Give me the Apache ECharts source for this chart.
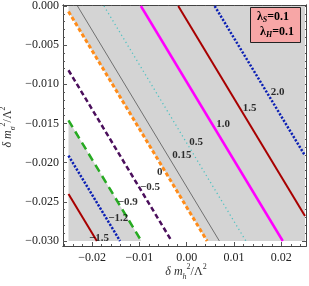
<!DOCTYPE html>
<html><head><meta charset="utf-8">
<script src="https://cdn.jsdelivr.net/npm/echarts@6/dist/echarts.min.js"></script>
<style>html,body{margin:0;padding:0;background:#fff}#c{width:309px;height:286px}</style>
</head><body><div id="c"></div>
<script>
// contour levels and the offset c of each line  x + y = c
const levelText = ['2.0','1.5','1.0','0.5','0.15','0','\u22120.5','\u22120.9','\u22121.2','\u22121.5'];
const lineOffset = [0.0059,-0.0018,-0.0097,-0.0175,-0.0231,-0.0257,-0.0332,-0.0396,-0.0441,-0.0490];
const labelAtY = [-0.0110,-0.0130,-0.0151,-0.0174,-0.0190,-0.0212,-0.0231,-0.0250,-0.0271,-0.0296];
const shadeAboveOffset = -0.0257;   // shaded where value >= 0
const shadeBelowOffset = -0.0396;   // shaded where value <= -0.9
const xDomain = [-0.025, 0.025];
const yDomain = [-0.030, 0.000];
const xTicks = [-0.02,-0.01,0,0.01,0.02];
const yTicks = [0,-0.005,-0.010,-0.015,-0.020,-0.025,-0.030];
const xMinorTicks = [-0.026,-0.024,-0.022,-0.018,-0.016,-0.014,-0.012,-0.008,-0.006,-0.004,-0.002,0.002,0.004,0.006,0.008,0.012,0.014,0.016,0.018,0.022,0.024];
const yMinorTicks = [-0.001,-0.002,-0.003,-0.004,-0.006,-0.007,-0.008,-0.009,-0.011,-0.012,-0.013,-0.014,-0.016,-0.017,-0.018,-0.019,-0.021,-0.022,-0.023,-0.024,-0.026,-0.027,-0.028,-0.029];

const lineStyles = [
  {color:'#0c20b4', width:2.5, type:[2.2,1.6]},
  {color:'#a80000', width:2, type:'solid'},
  {color:'#ff00ff', width:2.5, type:'solid'},
  {color:'#4fc2c2', width:1.3, type:[1.2,3]},
  {color:'#707070', width:1, type:'solid'},
  {color:'#ff8c1a', width:3, type:[4,2.5]},
  {color:'#4b0f5c', width:2.5, type:[5,3]},
  {color:'#27aa22', width:2.5, type:[8,5]},
  {color:'#0c20b4', width:2.5, type:[2.2,1.6]},
  {color:'#a80000', width:2, type:'solid'}
];
const labelSide = ['right','right','right','right','right','left','right','right','right','right'];
const labelDist = [4,3,4,3,5,3,1,0,2,-6];

const XMIN = -0.02616, XMAX = 0.02521, YMIN = -0.03064, YMAX = 0.000128;
const serif = '"Liberation Serif","DejaVu Serif",serif';
const minus = s => s.replace('-', '\u2212');

function boxCorners(){
  return [[xDomain[0],yDomain[0]],[xDomain[1],yDomain[0]],[xDomain[1],yDomain[1]],[xDomain[0],yDomain[1]]];
}
function clipHalf(poly, c, sign){
  const f = p => sign*(p[0]+p[1]-c);
  const out = [];
  for(let i=0;i<poly.length;i++){
    const a = poly[i], b = poly[(i+1)%poly.length];
    const fa = f(a), fb = f(b);
    if(fa>=0) out.push(a);
    if((fa>=0) !== (fb>=0)){
      const t = fa/(fa-fb);
      out.push([a[0]+t*(b[0]-a[0]), a[1]+t*(b[1]-a[1])]);
    }
  }
  return out;
}
function segment(c){
  const pts = [];
  const eps = 1e-12;
  [xDomain[0], xDomain[1]].forEach(x => { const y=c-x; if(y>=yDomain[0]-eps && y<=yDomain[1]+eps) pts.push([x,y]); });
  [yDomain[0], yDomain[1]].forEach(y => { const x=c-y; if(x>=xDomain[0]-eps && x<=xDomain[1]+eps) pts.push([x,y]); });
  pts.sort((a,b)=>a[0]-b[0]);
  return [pts[0], pts[pts.length-1]];
}

const shadePolys = [clipHalf(boxCorners(), shadeAboveOffset, 1), clipHalf(boxCorners(), shadeBelowOffset, -1)];

const series = [];
series.push({
  type:'custom', xAxisIndex:0, yAxisIndex:0, silent:true, z:1,
  data: shadePolys.map((p,i)=>[i]),
  renderItem: (params, api) => {
    const poly = shadePolys[params.dataIndex];
    return {type:'polygon', shape:{points: poly.map(p=>api.coord(p))}, style:{fill:'#d4d4d4'}};
  }
});
lineOffset.forEach((c,i)=>{
  const st = lineStyles[i];
  series.push({
    type:'line', xAxisIndex:0, yAxisIndex:0, data: segment(c), showSymbol:false, symbol:'none',
    silent:true, z:3, lineStyle:{color:st.color, width:st.width, type:st.type, cap:'butt'}, animation:false
  });
});
series.push({
  type:'scatter', xAxisIndex:0, yAxisIndex:0, symbolSize:0, z:5, silent:true,
  data: lineOffset.map((c,i)=>({value:[c-labelAtY[i], labelAtY[i]],
    label:{show:true, position:labelSide[i], distance:labelDist[i], formatter:levelText[i],
      fontFamily:serif, fontWeight:'bold', fontSize:11, color:'#000'}}))
});

const frameLine = {show:true, onZero:false, lineStyle:{color:'#444', width:1}};
function xAxisDef(pos, vals, len, labels){
  return {type:'value', position:pos, min:XMIN, max:XMAX, splitLine:{show:false},
    axisLine: frameLine,
    axisTick:{show:true, inside:true, length:len, customValues:vals, lineStyle:{color:'#555', width:1}},
    axisLabel: labels ? {show:true, customValues:vals, margin:6, fontFamily:serif, fontSize:12, color:'#222',
      formatter: v => minus(v.toFixed(2))} : {show:false}};
}
function yAxisDef(pos, vals, len, labels){
  return {type:'value', position:pos, min:YMIN, max:YMAX, splitLine:{show:false},
    axisLine: frameLine,
    axisTick:{show:true, inside:true, length:len, customValues:vals, lineStyle:{color:'#555', width:1}},
    axisLabel: labels ? {show:true, customValues:vals, margin:4, fontFamily:serif, fontSize:12, color:'#222',
      formatter: v => minus(v.toFixed(3))} : {show:false}};
}

const titleRich = {
  i:{fontFamily:serif, fontStyle:'italic', fontSize:12, fill:'#333', lineHeight:18},
  n:{fontFamily:serif, fontSize:12, fill:'#333', lineHeight:18},
  sub:{fontFamily:serif, fontStyle:'italic', fontSize:8, fill:'#333', verticalAlign:'bottom', lineHeight:18, padding:[6,0,0,0]},
  sup:{fontFamily:serif, fontSize:8, fill:'#333', verticalAlign:'top', lineHeight:18, padding:[0,0,6,0]}
};

const option = {
  animation:false,
  grid:{left:63, right:3, top:5, bottom:40, containLabel:false},
  xAxis:[xAxisDef('bottom', xTicks, 4, true), xAxisDef('bottom', xMinorTicks, 2, false),
         xAxisDef('top', xTicks, 4, false), xAxisDef('top', xMinorTicks, 2, false)],
  yAxis:[yAxisDef('left', yTicks, 4, true), yAxisDef('left', yMinorTicks, 2, false),
         yAxisDef('right', yTicks, 4, false), yAxisDef('right', yMinorTicks, 2, false)],
  series: series,
  graphic:[
    {type:'text', x:186, y:272, z:10, style:{
      text:'{i|\u03b4 m}{sub|h}{sup|2}{n|/\u039b}{sup|2}', align:'center', verticalAlign:'middle', rich:titleRich}},
    {type:'text', x:8, y:127, rotation:Math.PI/2, z:10, style:{
      text:'{i|\u03b4 m}{sub|\u03c3}{sup|2}{n|/\u039b}{sup|2}', align:'center', verticalAlign:'middle', rich:titleRich}},
    {type:'rect', shape:{x:250.5, y:7.5, width:50, height:35}, z:10,
      style:{fill:'#f7a6a6', stroke:'#222', lineWidth:1}},
    {type:'text', x:273, y:17, z:11, style:{text:'\u03bb{s|S}{b|=0.1}', align:'center', verticalAlign:'middle',
      fontFamily:serif, fontWeight:'bold', fontSize:12, fill:'#000',
      rich:{s:{fontFamily:serif, fontStyle:'italic', fontWeight:'bold', fontSize:8, padding:[5,0,0,0]}, b:{fontFamily:serif, fontWeight:'bold', fontSize:12}}}},
    {type:'text', x:277, y:32, z:11, style:{text:'\u03bb{s|H}{b|=0.1}', align:'center', verticalAlign:'middle',
      fontFamily:serif, fontWeight:'bold', fontSize:12, fill:'#000',
      rich:{s:{fontFamily:serif, fontStyle:'italic', fontWeight:'bold', fontSize:8, padding:[5,0,0,0]}, b:{fontFamily:serif, fontWeight:'bold', fontSize:12}}}}
  ]
};
const chart = echarts.init(document.getElementById('c'), null, {renderer:'canvas'});
chart.setOption(option);
</script></body></html>
